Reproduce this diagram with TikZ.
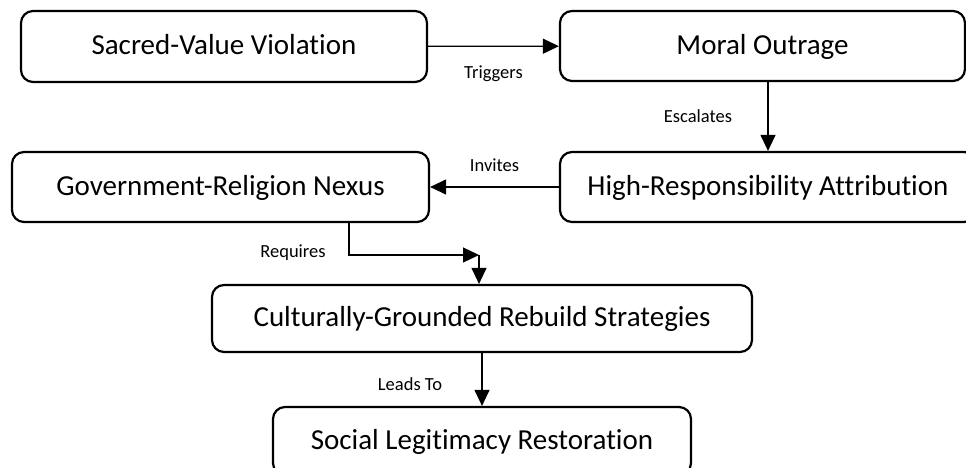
\documentclass[tikz,border=0pt]{standalone}
\usepackage{fontspec}
\setmainfont{Carlito}[Ligatures={NoCommon, NoContextual}, RawFeature={-liga,-clig,-dlig,-calt}]
\usetikzlibrary{arrows.meta}

\begin{document}
\begin{tikzpicture}[x=1pt, y=-1pt,
				    block/.style={draw, line width=2.2pt, rounded corners=12pt, fill=none,
				    			  text centered, text=black, inner sep=0pt,
				    			  text height=21pt, text depth=4.5pt,
				    			  font=\fontsize{29}{34}\selectfont},
				    lbl/.style={text=black, inner sep=0pt, font=\fontsize{18.5}{22}\selectfont},
				    >={Triangle[length=16pt, width=15pt]}]
	\useasboundingbox (0,0) rectangle (966,468);
	\node[block, minimum width=406pt, minimum height=71pt] (u1) at (224, 46.5) {Sacred-Value Violation};
	\node[block, minimum width=405pt, minimum height=70pt] (u2) at (762.5, 46) {Moral Outrage};
	\node[block, minimum width=416pt, minimum height=70pt] (u3) at (768, 187) {High-Responsibility Attribution};
	\node[block, minimum width=417pt, minimum height=70pt] (u4) at (220.5, 187) {Government-Religion Nexus};
	\node[block, minimum width=540pt, minimum height=67pt] (u5) at (482, 318.5) {Culturally-Grounded Rebuild Strategies};
	\node[block, minimum width=418pt, minimum height=68pt] (u6) at (482, 441) {Social Legitimacy Restoration};
	\coordinate (c1) at (479, 255);

	\path[->, line width=1.2pt] 	(u1)  edge  node[lbl, yshift=-27pt] {Triggers} (u2);
	\path[->, line width=1.2pt] 	(u2.south -| u3.north)  edge  node[lbl, xshift=-70pt] {Escalates} (u3.north);
	\path[->, line width=1.2pt] 	(u3)  edge  node[lbl, yshift=22pt] {Invites} (u4);
	\draw[->, line width=1.2pt] 	([xshift=128.5pt]u4.south) |- node[lbl, xshift=-56pt, yshift=2pt] {Requires} (c1);
	\draw[->, line width=1.2pt] 	(c1) -- (u5.north -| c1);
	\path[->, line width=1.2pt] 	(u5)  edge  node[lbl, xshift=-72pt, yshift=-5pt] {Leads To} (u6);

\end{tikzpicture}
\end{document}
